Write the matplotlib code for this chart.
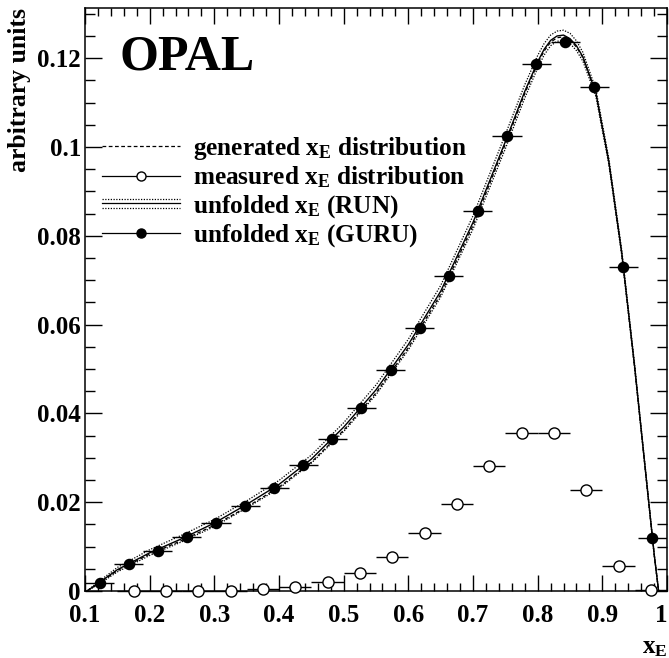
import numpy as np
import matplotlib
matplotlib.use("Agg")
import matplotlib.pyplot as plt
from matplotlib.lines import Line2D
from matplotlib.legend_handler import HandlerBase
from matplotlib.ticker import FixedLocator, MultipleLocator, FormatStrFormatter

plt.rcParams['font.family'] = ['Liberation Serif', 'DejaVu Serif']
plt.rcParams['font.weight'] = 'bold'
plt.rcParams['mathtext.fontset'] = 'custom'
plt.rcParams['mathtext.rm'] = 'Liberation Serif:bold'
plt.rcParams['mathtext.bf'] = 'Liberation Serif:bold'
plt.rcParams['mathtext.it'] = 'Liberation Serif:bold'

# smooth curves
x_curve = [0.103, 0.12, 0.15, 0.20, 0.25, 0.30, 0.35, 0.40, 0.45, 0.50, 0.55,
           0.60, 0.65, 0.70, 0.75, 0.78, 0.80, 0.81, 0.82, 0.83, 0.84, 0.85, 0.86,
           0.87, 0.89, 0.91, 0.93, 0.95, 0.97, 0.98, 0.987]
run_mid = [0.0, 0.0017, 0.0048, 0.0086, 0.0118, 0.0153, 0.0195, 0.0240, 0.0297,
           0.0369, 0.0453, 0.0555, 0.0675, 0.0830, 0.1012, 0.1125, 0.1192, 0.1220,
           0.1240, 0.1250, 0.1252, 0.1244, 0.1228, 0.1203, 0.1122, 0.0968, 0.0762,
           0.0505, 0.0225, 0.0085, 0.0]
run_hi = [0.0, 0.0020, 0.0053, 0.0093, 0.0126, 0.0161, 0.0203, 0.0249, 0.0306,
          0.0379, 0.0464, 0.0567, 0.0688, 0.0845, 0.1028, 0.1140, 0.1206, 0.1233,
          0.1252, 0.1261, 0.1263, 0.1256, 0.1239, 0.1213, 0.1130, 0.0975, 0.0768,
          0.0510, 0.0228, 0.0087, 0.0]
run_lo = [0.0, 0.0014, 0.0043, 0.0080, 0.0111, 0.0145, 0.0187, 0.0231, 0.0288,
          0.0359, 0.0442, 0.0543, 0.0662, 0.0815, 0.0996, 0.1110, 0.1178, 0.1207,
          0.1228, 0.1238, 0.1240, 0.1233, 0.1217, 0.1193, 0.1114, 0.0961, 0.0756,
          0.0500, 0.0222, 0.0083, 0.0]
generated = [0.0, 0.0016, 0.0046, 0.0083, 0.0114, 0.0148, 0.0189, 0.0234, 0.0290,
             0.0362, 0.0446, 0.0548, 0.0668, 0.0823, 0.1006, 0.1120, 0.1188, 0.1216,
             0.1236, 0.1246, 0.1248, 0.1241, 0.1225, 0.1201, 0.1120, 0.0966, 0.0760,
             0.0503, 0.0223, 0.0084, 0.0]

# unfolded (GURU), 20 bins of 0.045
guru_x = [0.1225, 0.1675, 0.2125, 0.2575, 0.3025, 0.3475, 0.3925, 0.4375, 0.4825, 0.5275,
          0.5725, 0.6175, 0.6625, 0.7075, 0.7525, 0.7975, 0.8425, 0.8875, 0.9325, 0.9775]
guru_y = [0.0019, 0.0060, 0.0091, 0.0122, 0.0153, 0.0192, 0.0233, 0.0283, 0.0343, 0.0412,
          0.0497, 0.0592, 0.0709, 0.0855, 0.1024, 0.1186, 0.1236, 0.1135, 0.0729, 0.0120]
guru_dx = 0.0225

# measured, 17 bins of 0.05
meas_x = [0.175, 0.225, 0.275, 0.325, 0.375, 0.425, 0.475, 0.525, 0.575, 0.625,
          0.675, 0.725, 0.775, 0.825, 0.875, 0.925, 0.975]
meas_y = [0.0, 0.0, 0.0, 0.0, 0.0004, 0.0008, 0.0021, 0.0041, 0.0077, 0.0130,
          0.0197, 0.0281, 0.0356, 0.0356, 0.0227, 0.0057, 0.0003]
meas_dx = 0.025

x_ticks = [0.1, 0.2, 0.3, 0.4, 0.5, 0.6, 0.7, 0.8, 0.9, 1.0]
y_ticks = [0.0, 0.02, 0.04, 0.06, 0.08, 0.1, 0.12]

labels = [r'generated x$_\mathrm{E}$ distribution',
          r'measured x$_\mathrm{E}$ distribution',
          r'unfolded x$_\mathrm{E}$ (RUN)',
          r'unfolded x$_\mathrm{E}$ (GURU)']


class BandHandler(HandlerBase):
    def create_artists(self, legend, orig_handle, xdescent, ydescent,
                       width, height, fontsize, trans):
        y = height / 2 - ydescent
        arts = []
        for dy, ls in [(0, '-'), (3.2, (0, (1, 1.2))), (-3.2, (0, (1, 1.2)))]:
            arts.append(Line2D([-xdescent, width - xdescent], [y + dy, y + dy],
                               color='k', lw=0.9, ls=ls, transform=trans))
        return arts


fig = plt.figure(figsize=(6.69, 6.58), dpi=100)
ax = fig.add_axes([85 / 669, 67 / 658, 582 / 669, 583 / 658])

ax.plot(x_curve, generated, color='k', lw=0.9, ls=(0, (3, 2)))
ax.plot(x_curve, run_hi, color='k', lw=0.9, ls=(0, (1, 1.2)))
ax.plot(x_curve, run_lo, color='k', lw=0.9, ls=(0, (1, 1.2)))
ax.plot(x_curve, run_mid, color='k', lw=1.0)

ax.errorbar(meas_x, meas_y, xerr=meas_dx, fmt='o', ms=8, mfc='white', mec='k',
            mew=1.0, ecolor='k', elinewidth=1.0, capsize=0, zorder=4, clip_on=False)
ax.errorbar(guru_x, guru_y, xerr=guru_dx, fmt='o', ms=7.3, mfc='k', mec='k',
            ecolor='k', elinewidth=1.0, capsize=0, zorder=5)

ax.set_xlim(0.1, 1.0)
ax.set_ylim(0, 0.1313)
ax.xaxis.set_major_locator(FixedLocator(x_ticks))
ax.xaxis.set_minor_locator(MultipleLocator(0.02))
ax.yaxis.set_major_locator(FixedLocator(y_ticks))
ax.yaxis.set_minor_locator(MultipleLocator(0.005))
ax.xaxis.set_major_formatter(FormatStrFormatter('%g'))
ax.yaxis.set_major_formatter(FormatStrFormatter('%g'))
ax.tick_params(which='both', direction='in', top=True, right=True, width=1.0,
               labelsize=18)
ax.tick_params(axis='x', which='major', length=11.5, pad=9)
ax.tick_params(axis='x', which='minor', length=5.5)
ax.tick_params(axis='y', which='major', length=12.5, pad=3)
ax.tick_params(axis='y', which='minor', length=7)
for s in ax.spines.values():
    s.set_linewidth(1.1)

# keep the last x label inside the frame, as in the original
ax.xaxis.get_major_ticks()[-1].label1.set_horizontalalignment('right')

ax.set_ylabel('arbitrary units', fontsize=18.5, fontweight='bold', loc='top', labelpad=4)
ax.set_xlabel(r'x$_\mathrm{E}$', fontsize=18, fontweight='bold', loc='right', labelpad=7)

ax.text(0.06, 0.894, 'OPAL', transform=ax.transAxes, fontsize=36,
        fontweight='bold', va='baseline')

band_proxy = Line2D([], [])
handles = [Line2D([], [], color='k', lw=0.9, ls=(0, (3, 2))),
           Line2D([], [], color='k', lw=0.9, marker='o', ms=6.5, mfc='white', mec='k'),
           band_proxy,
           Line2D([], [], color='k', lw=0.9, marker='o', ms=6.5, mfc='k', mec='k')]
leg = ax.legend(handles, labels, loc='upper left', bbox_to_anchor=(0.011, 0.8),
                frameon=False, fontsize=18.2, handlelength=3.1, handletextpad=0.5,
                labelspacing=0.11, numpoints=1, borderaxespad=0,
                handler_map={band_proxy: BandHandler()})
for t in leg.get_texts():
    t.set_fontweight('bold')

fig.savefig('out.png', dpi=100)
